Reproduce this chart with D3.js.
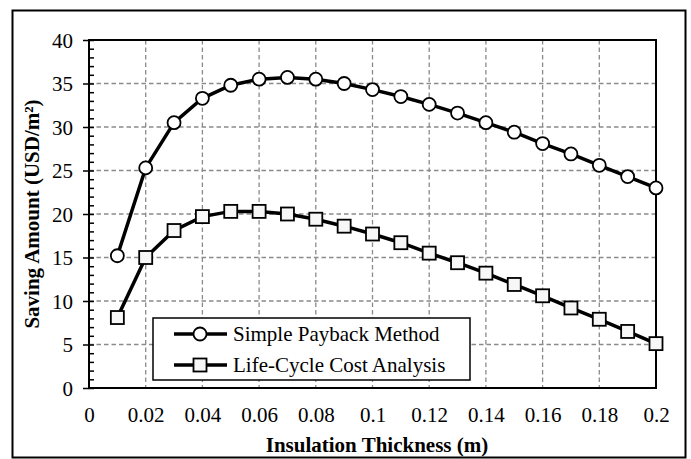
<!DOCTYPE html>
<html>
<head>
<meta charset="utf-8">
<script src="https://cdn.jsdelivr.net/npm/d3@7"></script>
<style>
  body { margin: 0; background: #fff; }
  svg text { font-family: "Liberation Serif", "Times New Roman", serif !important; fill: #000; }
</style>
</head>
<body>
<svg id="chart" width="691" height="459"></svg>
<script>
// data
const thickness = [0.01, 0.02, 0.03, 0.04, 0.05, 0.06, 0.07, 0.08, 0.09, 0.1,
                   0.11, 0.12, 0.13, 0.14, 0.15, 0.16, 0.17, 0.18, 0.19, 0.2]
const simplePayback = [15.2, 25.3, 30.5, 33.3, 34.8, 35.5, 35.7, 35.5, 35.0, 34.3,
                       33.5, 32.6, 31.6, 30.5, 29.4, 28.1, 26.9, 25.6, 24.3, 23.0]
const lifeCycle = [8.1, 15.0, 18.1, 19.7, 20.3, 20.3, 20.0, 19.4, 18.6, 17.7,
                   16.7, 15.5, 14.4, 13.2, 11.9, 10.6, 9.2, 7.9, 6.5, 5.1]
const xTicks = [0, 0.02, 0.04, 0.06, 0.08, 0.1, 0.12, 0.14, 0.16, 0.18, 0.2]
const yTicks = [0, 5, 10, 15, 20, 25, 30, 35, 40]
const seriesNames = ["Simple Payback Method", "Life-Cycle Cost Analysis"]

const FONT = '"Liberation Serif", "Times New Roman", serif'
const svg = d3.select("#chart")
const margin = {left: 89, top: 40, right: 656, bottom: 388}

const x = d3.scaleLinear().domain([0, 0.2]).range([margin.left, margin.right])
const y = d3.scaleLinear().domain([0, 40]).range([margin.bottom, margin.top])

//outer frame
svg.append("rect").attr("x", 12.5).attr("y", 10.5).attr("width", 673).attr("height", 447)
    .attr("fill", "none").attr("stroke", "#000").attr("stroke-width", 2)

//dashed grid
const grid = svg.append("g").attr("stroke", "#8a8a8a").attr("stroke-width", 1.3).attr("stroke-dasharray", "4.5,3")
grid.selectAll(".gx").data(xTicks.slice(1, -1)).enter().append("line")
    .attr("x1", d => x(d)).attr("x2", d => x(d)).attr("y1", margin.top).attr("y2", margin.bottom)
grid.selectAll(".gy").data(yTicks.slice(1, -1)).enter().append("line")
    .attr("y1", d => y(d)).attr("y2", d => y(d)).attr("x1", margin.left).attr("x2", margin.right)

//y minor ticks (inside)
const yMinor = svg.append("g").attr("transform", `translate(${margin.left},0)`)
    .call(d3.axisLeft(y).tickValues(d3.range(0, 41, 1)).tickSize(-5).tickFormat(""))
yMinor.select(".domain").remove()
yMinor.selectAll("line").attr("stroke", "#000").attr("stroke-width", 1.5)

//y major axis
const yAxis = svg.append("g").attr("transform", `translate(${margin.left},0)`)
    .attr("font-family", FONT)
    .call(d3.axisLeft(y).tickValues(yTicks).tickSize(6).tickPadding(10).tickFormat(d3.format("d")))
yAxis.attr("font-family", FONT)
yAxis.select(".domain").remove()
yAxis.selectAll("line").attr("stroke", "#000").attr("stroke-width", 1.5)
yAxis.selectAll("text").style("font-family", FONT).style("font-size", "21px").attr("dy", "0.35em")

//x axis labels
const xAxis = svg.append("g").attr("transform", `translate(0,${margin.bottom})`)
    .call(d3.axisBottom(x).tickValues(xTicks).tickSize(0).tickPadding(19).tickFormat(d => d3.format("")(+d.toFixed(2))))
xAxis.attr("font-family", FONT)
xAxis.select(".domain").remove()
xAxis.selectAll("text").style("font-family", FONT).style("font-size", "21px").attr("dy", "0.71em")

//plot box
svg.append("rect").attr("x", margin.left).attr("y", margin.top)
    .attr("width", margin.right - margin.left).attr("height", margin.bottom - margin.top)
    .attr("fill", "none").attr("stroke", "#000").attr("stroke-width", 2)

//titles
svg.append("text").attr("x", 377).attr("y", 452).attr("text-anchor", "middle")
    .style("font-family", FONT).style("font-size", "21px").style("font-weight", "bold").text("Insulation Thickness (m)")
svg.append("text").attr("transform", `translate(39,${(margin.top + margin.bottom) / 2}) rotate(-90)`)
    .attr("text-anchor", "middle").style("font-family", FONT).style("font-size", "21px").style("font-weight", "bold")
    .text("Saving Amount (USD/m²)")

const line = d3.line().x(d => x(d[0])).y(d => y(d[1]))
const sp = thickness.map((t, i) => [t, simplePayback[i]])
const lc = thickness.map((t, i) => [t, lifeCycle[i]])

svg.append("path").attr("d", line(sp)).attr("fill", "none").attr("stroke", "#000").attr("stroke-width", 3.5)
svg.append("path").attr("d", line(lc)).attr("fill", "none").attr("stroke", "#000").attr("stroke-width", 3.5)

svg.selectAll(".circ").data(sp).enter().append("circle")
    .attr("cx", d => x(d[0])).attr("cy", d => y(d[1])).attr("r", 6.5)
    .attr("fill", "#fff").attr("stroke", "#000").attr("stroke-width", 1.8)
svg.selectAll(".sq").data(lc).enter().append("rect")
    .attr("x", d => x(d[0]) - 6.5).attr("y", d => y(d[1]) - 6.5).attr("width", 13).attr("height", 13)
    .attr("fill", "#f7f7f7").attr("stroke", "#000").attr("stroke-width", 1.8)

//legend
const lg = svg.append("g")
lg.append("rect").attr("x", 153).attr("y", 318).attr("width", 317).attr("height", 62)
    .attr("fill", "#fff").attr("stroke", "#000").attr("stroke-width", 1.5)
seriesNames.forEach((name, i) => {
    const ly = 334 + i * 31
    lg.append("line").attr("x1", 174).attr("x2", 227).attr("y1", ly).attr("y2", ly)
        .attr("stroke", "#000").attr("stroke-width", 3.5)
    if (i === 0) {
        lg.append("circle").attr("cx", 200).attr("cy", ly).attr("r", 6.5)
            .attr("fill", "#fff").attr("stroke", "#000").attr("stroke-width", 1.8)
    } else {
        lg.append("rect").attr("x", 193.5).attr("y", ly - 6.5).attr("width", 13).attr("height", 13)
            .attr("fill", "#f7f7f7").attr("stroke", "#000").attr("stroke-width", 1.8)
    }
    lg.append("text").attr("x", 233).attr("y", ly).attr("dy", "0.35em")
        .style("font-family", FONT).style("font-size", "21px").text(name)
})
</script>
</body>
</html>
